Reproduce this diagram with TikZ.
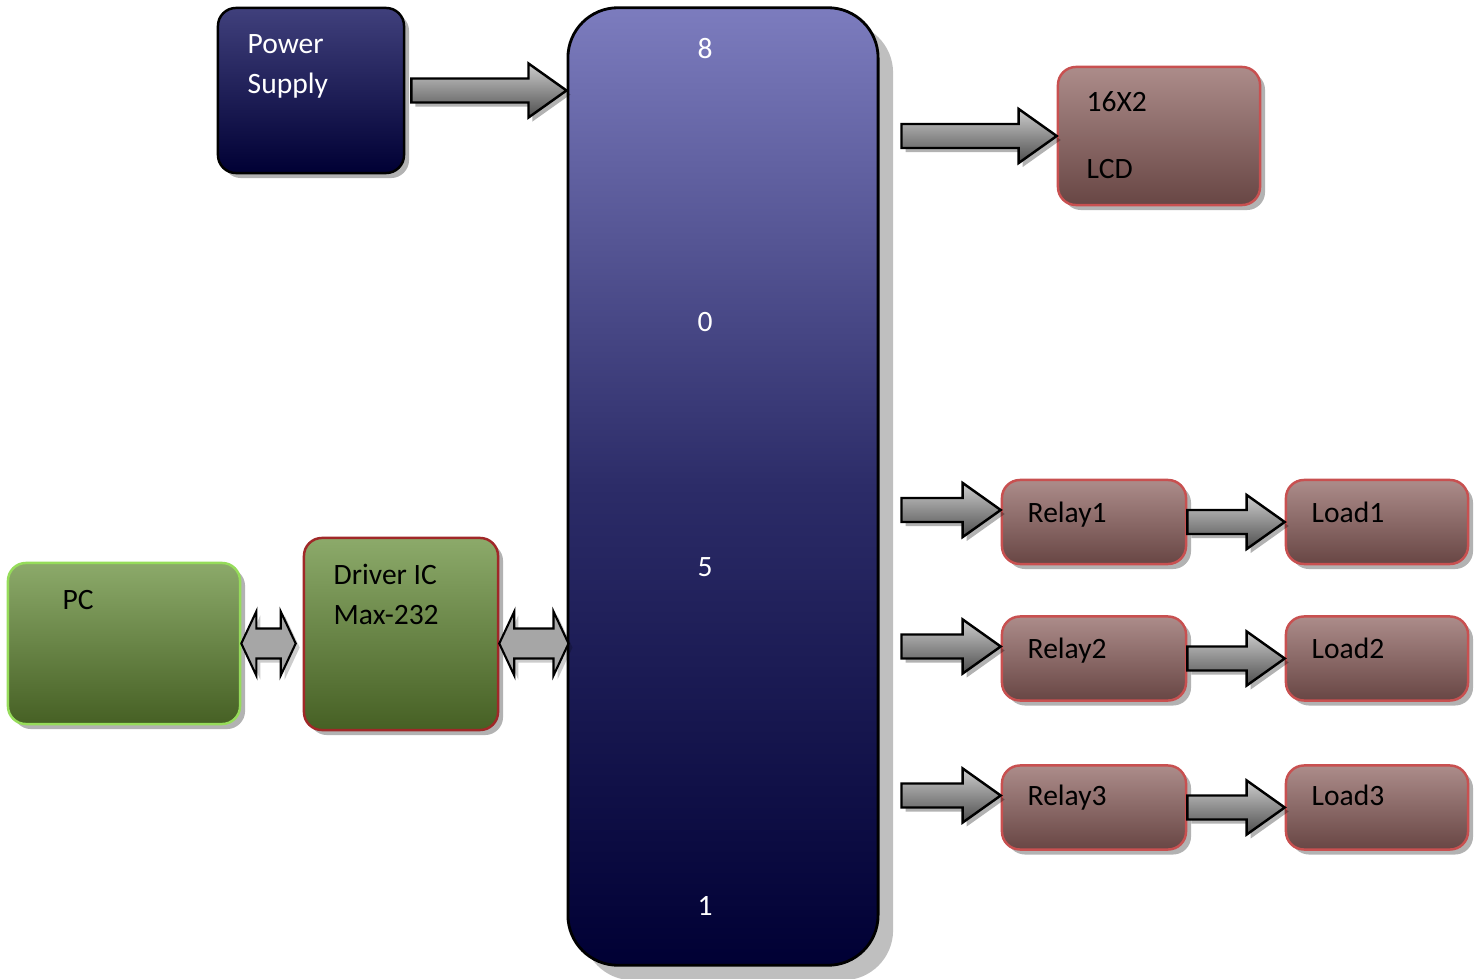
\documentclass[tikz,border=0pt]{standalone}
\usepackage{fontspec}
\setmainfont{Carlito}
\usepackage{tikz}
\usetikzlibrary{calc,shadows}

\definecolor{navytop}{RGB}{64,64,124}
\definecolor{navybot}{RGB}{0,0,52}
\definecolor{mcutop}{RGB}{124,124,190}
\definecolor{mcumid}{RGB}{44,44,104}
\definecolor{brntop}{RGB}{172,140,138}
\definecolor{brnbot}{RGB}{104,70,68}
\definecolor{brnline}{RGB}{200,80,80}
\definecolor{grntop}{RGB}{140,170,106}
\definecolor{grnbot}{RGB}{70,96,36}
\definecolor{pcline}{RGB}{150,220,90}
\definecolor{drvline}{RGB}{160,40,40}
\definecolor{arrtop}{RGB}{205,205,205}
\definecolor{arrbot}{RGB}{78,78,78}

% block arrow from #1 to tip #2 (horizontal)
\newcommand{\blockarrow}[2]{%
  \draw[barrow] let \p1=(#1), \p2=(#2) in
    (\x1,{\y2+0.12cm}) -- ({\x2-0.38cm},{\y2+0.12cm}) -- ({\x2-0.38cm},{\y2+0.27cm})
    -- (\x2,\y2) -- ({\x2-0.38cm},{\y2-0.27cm}) -- ({\x2-0.38cm},{\y2-0.12cm})
    -- (\x1,{\y2-0.12cm}) -- cycle;}
% two headed block arrow between #1 and #2
\newcommand{\dblockarrow}[2]{%
  \draw[dbarrow] let \p1=(#1), \p2=(#2) in
    (\x1,\y1) -- ({\x1+0.15cm},{\y1+0.32cm}) -- ({\x1+0.15cm},{\y1+0.15cm})
    -- ({\x2-0.15cm},{\y1+0.15cm}) -- ({\x2-0.15cm},{\y1+0.32cm}) -- (\x2,\y1)
    -- ({\x2-0.15cm},{\y1-0.32cm}) -- ({\x2-0.15cm},{\y1-0.15cm})
    -- ({\x1+0.15cm},{\y1-0.15cm}) -- ({\x1+0.15cm},{\y1-0.32cm}) -- cycle;}

\begin{document}
\begin{tikzpicture}[x=0.01cm,y=-0.01cm,
  every node/.style={font=\fontsize{8.4}{10}\selectfont},
  blk/.style={rectangle, rounded corners=0.18cm, line width=0.7pt, inner sep=0pt,
    drop shadow={shadow xshift=0.05cm, shadow yshift=-0.05cm, fill=black, opacity=0.3}},
  navyblk/.style={blk, draw=black, top color=navytop, bottom color=navybot},
  brnblk/.style={blk, draw=brnline, top color=brntop, bottom color=brnbot},
  grnblk/.style={blk, top color=grntop, bottom color=grnbot},
  wtxt/.style={text=white, anchor=base west, inner sep=0pt},
  btxt/.style={text=black, anchor=base west, inner sep=0pt},
  barrow/.style={draw=black, line width=0.7pt, top color=arrtop, bottom color=arrbot,
    drop shadow={shadow xshift=0.04cm, shadow yshift=-0.04cm, fill=black, opacity=0.3}},
  dbarrow/.style={draw=black, line width=0.6pt, fill=gray!70,
    drop shadow={shadow xshift=0.04cm, shadow yshift=-0.04cm, fill=black, opacity=0.2}}]
\useasboundingbox (0,0) rectangle (1481,979);

% controller
\node[rectangle, rounded corners=0.5cm, draw=black, line width=0.8pt,
  top color=mcutop, bottom color=navybot, middle color=mcumid,
  minimum width=3.10cm, minimum height=9.57cm,
  drop shadow={shadow xshift=0.15cm, shadow yshift=-0.15cm, fill=black, opacity=0.25}]
  (mcu) at (723,486.5) {};
\node[text=white, anchor=base] (d8) at (705,59) {8};
\node[text=white, anchor=base] (d0) at (705,331) {0};
\node[text=white, anchor=base] (d5) at (705,576) {5};
\node[text=white, anchor=base] (d1) at (705,915) {1};

% power supply
\node[navyblk, minimum width=1.86cm, minimum height=1.65cm] (ps) at (311,90.5) {};
\node[wtxt] (pstxt1) at (247,54) {Power};
\node[wtxt] (pstxt2) at (247,94) {Supply};

% lcd
\node[brnblk, minimum width=2.02cm, minimum height=1.38cm] (lcd) at (1159,136) {};
\node[btxt] (lcdtxt1) at (1086,112) {16X2};
\node[btxt] (lcdtxt2) at (1086,179) {LCD};

% relays and loads
\node[brnblk, minimum width=1.84cm, minimum height=0.84cm] (relay1) at (1094,522) {};
\node[brnblk, minimum width=1.82cm, minimum height=0.84cm] (load1) at (1377,522) {};
\node[brnblk, minimum width=1.84cm, minimum height=0.84cm] (relay2) at (1094,658.5) {};
\node[brnblk, minimum width=1.82cm, minimum height=0.84cm] (load2) at (1377,658.5) {};
\node[brnblk, minimum width=1.84cm, minimum height=0.84cm] (relay3) at (1094,807.5) {};
\node[brnblk, minimum width=1.82cm, minimum height=0.84cm] (load3) at (1377,807.5) {};
\node[btxt] (r1txt) at (1027,522) {Relay1};
\node[btxt] (l1txt) at (1311,522) {Load1};
\node[btxt] (r2txt) at (1027,658) {Relay2};
\node[btxt] (l2txt) at (1311,658) {Load2};
\node[btxt] (r3txt) at (1027,805) {Relay3};
\node[btxt] (l3txt) at (1311,805) {Load3};

% pc and driver
\node[grnblk, draw=pcline, minimum width=2.32cm, minimum height=1.61cm] (pc) at (124,643.5) {};
\node[grnblk, draw=drvline, minimum width=1.94cm, minimum height=1.92cm] (drv) at (401,634) {};
\node[btxt] (pctxt) at (62,609) {PC};
\node[btxt] (drvtxt1) at (333,584) {Driver IC};
\node[btxt] (drvtxt2) at (333,624) {Max-232};

% arrows
\blockarrow{[xshift=0.06cm]ps.east}{mcu.west |- ps.east}
\blockarrow{[xshift=0.22cm]mcu.east |- lcd.west}{lcd.west}
\coordinate (in1) at ([yshift=0.12cm]relay1.west);
\coordinate (in2) at ([yshift=0.12cm]relay2.west);
\coordinate (in3) at ([yshift=0.12cm]relay3.west);
\blockarrow{[xshift=0.22cm]mcu.east |- in1}{in1}
\blockarrow{[xshift=0.22cm]mcu.east |- in2}{in2}
\blockarrow{[xshift=0.22cm]mcu.east |- in3}{in3}
\blockarrow{relay1.east}{load1.west}
\blockarrow{relay2.east}{load2.west}
\blockarrow{relay3.east}{load3.west}
\dblockarrow{pc.east}{[xshift=-0.07cm]drv.west |- pc.east}
\dblockarrow{drv.east |- pc.east}{[xshift=0.02cm]mcu.west |- pc.east}
\end{tikzpicture}
\end{document}
